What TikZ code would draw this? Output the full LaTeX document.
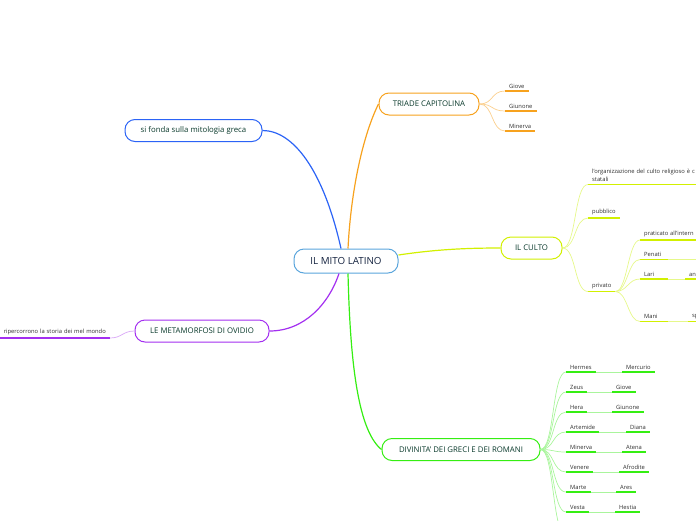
\documentclass[tikz,border=0pt]{standalone}
\usepackage{fontspec}
\setmainfont{Open Sans}

\definecolor{rootline}{HTML}{5AA5DC}
\definecolor{roottext}{HTML}{14223F}
\definecolor{boxtext}{HTML}{0A3A2C}
\definecolor{leaftext}{HTML}{2E2E2E}
\definecolor{blueb}{HTML}{2B63F6}
\definecolor{orangeb}{HTML}{F7A21E}
\definecolor{orangel}{HTML}{FBCF8E}
\definecolor{limeb}{HTML}{D2F000}
\definecolor{limel}{HTML}{E6F88A}
\definecolor{purpleb}{HTML}{A32FF0}
\definecolor{purplel}{HTML}{D9A6F7}
\definecolor{greenb}{HTML}{35EE12}
\definecolor{greenl}{HTML}{A9F59C}

\begin{document}
\begin{tikzpicture}[
    x=1pt, y=-1pt,
    topic/.style={draw=#1, line width=1pt, fill=white, rounded corners=10pt,
        minimum height=22pt, inner sep=0pt, text=boxtext,
        font=\fontsize{7.8}{8}\selectfont},
    branch/.style={draw=#1, line width=1.2pt},
    twig/.style={draw=#1, line width=0.7pt},
    leaf/.style={anchor=south west, inner xsep=4pt, inner ysep=2.5pt, text=leaftext,
        font=\fontsize{5.8}{8}\selectfont,
        append after command={(\tikzlastnode.south west) edge[draw=#1, line width=1.3pt] (\tikzlastnode.south east)}}
]
\useasboundingbox (0,0) rectangle (696,520);
\clip (0,0) rectangle (696,520);

\node[topic=rootline, minimum width=104pt, minimum height=24pt, text=roottext,
    font=\fontsize{9.8}{10}\selectfont] (mito) at (346,261) {IL MITO LATINO};

\node[topic=blueb, minimum width=137pt] (fonda) at (193.5,130.5) {si fonda sulla mitologia greca};
\node[topic=orangeb, minimum width=100pt] (triade) at (429,104) {TRIADE CAPITOLINA};
\node[topic=limeb, minimum width=61pt] (culto) at (531.5,248) {IL CULTO};
\node[topic=purpleb, minimum width=134pt] (meta) at (202,331) {LE METAMORFOSI DI OVIDIO};
\node[topic=greenb, minimum width=158pt] (divin) at (461,449.5) {DIVINITA' DEI GRECI E DEI ROMANI};

\draw[branch=blueb] ([xshift=-5pt]mito.north) .. controls +(-18,-80) and +(30,0) .. (fonda.east);
\draw[branch=orangeb] ([xshift=2pt]mito.north) .. controls +(3,-60) and +(-15,30) .. (triade.west);
\draw[branch=limeb] ([yshift=6pt]mito.east) .. controls +(40,-6) and +(-30,0) .. (culto.west);
\draw[branch=purpleb] ([xshift=-7pt]mito.south) .. controls +(-10,30) and +(35,0) .. (meta.east);
\draw[branch=greenb] ([xshift=2pt]mito.south) .. controls +(2,80) and +(-25,-20) .. (divin.west);

% triade capitolina
\node[leaf=orangeb] (giove) at (505,91) {Giove};
\node[leaf=orangeb] (giunone) at (505,111) {Giunone};
\node[leaf=orangeb] (minerva) at (505,131) {Minerva};
\draw[twig=orangel] (triade.east) .. controls +(14,0) and +(-14,0) .. (giove.south west);
\draw[twig=orangel] (triade.east) .. controls +(14,0) and +(-14,0) .. (giunone.south west);
\draw[twig=orangel] (triade.east) .. controls +(14,0) and +(-14,0) .. (minerva.south west);

% il culto
\node[leaf=limeb, text width=120pt, align=left] (org) at (588,184.5) {l'organizzazione del culto religioso è c\\statali};
\node[leaf=limeb] (pubblico) at (588,218) {pubblico};
\node[leaf=limeb] (privato) at (588,291.5) {privato};
\draw[twig=limel] (culto.east) .. controls +(14,0) and +(-14,0) .. (org.south west);
\draw[twig=limel] (culto.east) .. controls +(14,0) and +(-14,0) .. (pubblico.south west);
\draw[twig=limel] (culto.east) .. controls +(14,0) and +(-14,0) .. (privato.south west);

\node[leaf=limeb, text width=70pt, align=left] (pratic) at (640,240) {praticato all'intern};
\node[leaf=limeb, text width=20pt, align=left] (penati) at (640,259.5) {Penati};
\node[leaf=limeb, text width=20pt, align=left] (lari) at (640,279) {Lari};
\node[leaf=limeb, text width=20pt, align=left] (mani) at (640,321.5) {Mani};
\node[leaf=limeb, text width=20pt, align=left] (an) at (685,279) {an};
\node[leaf=limeb, text width=20pt, align=left] (sp) at (688,321.5) {sp};
\coordinate (penatinext) at (700,259.5);
\draw[twig=limel] (privato.south east) .. controls +(12,0) and +(-12,0) .. (pratic.south west);
\draw[twig=limel] (privato.south east) .. controls +(12,0) and +(-12,0) .. (penati.south west);
\draw[twig=limel] (privato.south east) .. controls +(12,0) and +(-12,0) .. (lari.south west);
\draw[twig=limel] (privato.south east) .. controls +(12,0) and +(-12,0) .. (mani.south west);
\draw[twig=limel] (penati.south east) -- (penatinext);
\draw[twig=limel] (lari.south east) -- (an.south west);
\draw[twig=limel] (mani.south east) -- (sp.south west);

% metamorfosi
\node[leaf=purpleb, anchor=south east, text width=125pt, align=right] (riper) at (110,338) {ripercorrono la storia dei mel mondo};
\draw[twig=purplel] (meta.west) .. controls +(-12,0) and +(12,0) .. (riper.south east);

% divinita
\node[leaf=greenb] (hermes) at (566,372) {Hermes};
\node[leaf=greenb] (mercurio) at (622,372) {Mercurio};
\node[leaf=greenb] (zeus) at (566,392) {Zeus};
\node[leaf=greenb] (giove2) at (612,392) {Giove};
\node[leaf=greenb] (hera) at (566,412) {Hera};
\node[leaf=greenb] (giunone2) at (612,412) {Giunone};
\node[leaf=greenb] (artemide) at (566,432) {Artemide};
\node[leaf=greenb] (diana) at (626,432) {Diana};
\node[leaf=greenb] (minerva2) at (566,452) {Minerva};
\node[leaf=greenb] (atena) at (622,452) {Atena};
\node[leaf=greenb] (venere) at (566,472) {Venere};
\node[leaf=greenb] (afrodite) at (619,472) {Afrodite};
\node[leaf=greenb] (marte) at (566,492) {Marte};
\node[leaf=greenb] (ares) at (616,492) {Ares};
\node[leaf=greenb] (vesta) at (566,512) {Vesta};
\node[leaf=greenb] (hestia) at (615,512) {Hestia};
\coordinate (divnext) at (566,535);

\draw[twig=greenl] (divin.east) .. controls +(14,0) and +(-14,0) .. (hermes.south west);
\draw[twig=greenl] (divin.east) .. controls +(14,0) and +(-14,0) .. (zeus.south west);
\draw[twig=greenl] (divin.east) .. controls +(14,0) and +(-14,0) .. (hera.south west);
\draw[twig=greenl] (divin.east) .. controls +(14,0) and +(-14,0) .. (artemide.south west);
\draw[twig=greenl] (divin.east) .. controls +(14,0) and +(-14,0) .. (minerva2.south west);
\draw[twig=greenl] (divin.east) .. controls +(14,0) and +(-14,0) .. (venere.south west);
\draw[twig=greenl] (divin.east) .. controls +(14,0) and +(-14,0) .. (marte.south west);
\draw[twig=greenl] (divin.east) .. controls +(14,0) and +(-14,0) .. (vesta.south west);
\draw[twig=greenl] (divin.east) .. controls +(14,0) and +(-14,0) .. (divnext);

\draw[twig=greenl] (hermes.south east) -- (mercurio.south west);
\draw[twig=greenl] (zeus.south east) -- (giove2.south west);
\draw[twig=greenl] (hera.south east) -- (giunone2.south west);
\draw[twig=greenl] (artemide.south east) -- (diana.south west);
\draw[twig=greenl] (minerva2.south east) -- (atena.south west);
\draw[twig=greenl] (venere.south east) -- (afrodite.south west);
\draw[twig=greenl] (marte.south east) -- (ares.south west);
\draw[twig=greenl] (vesta.south east) -- (hestia.south west);
\end{tikzpicture}
\end{document}
